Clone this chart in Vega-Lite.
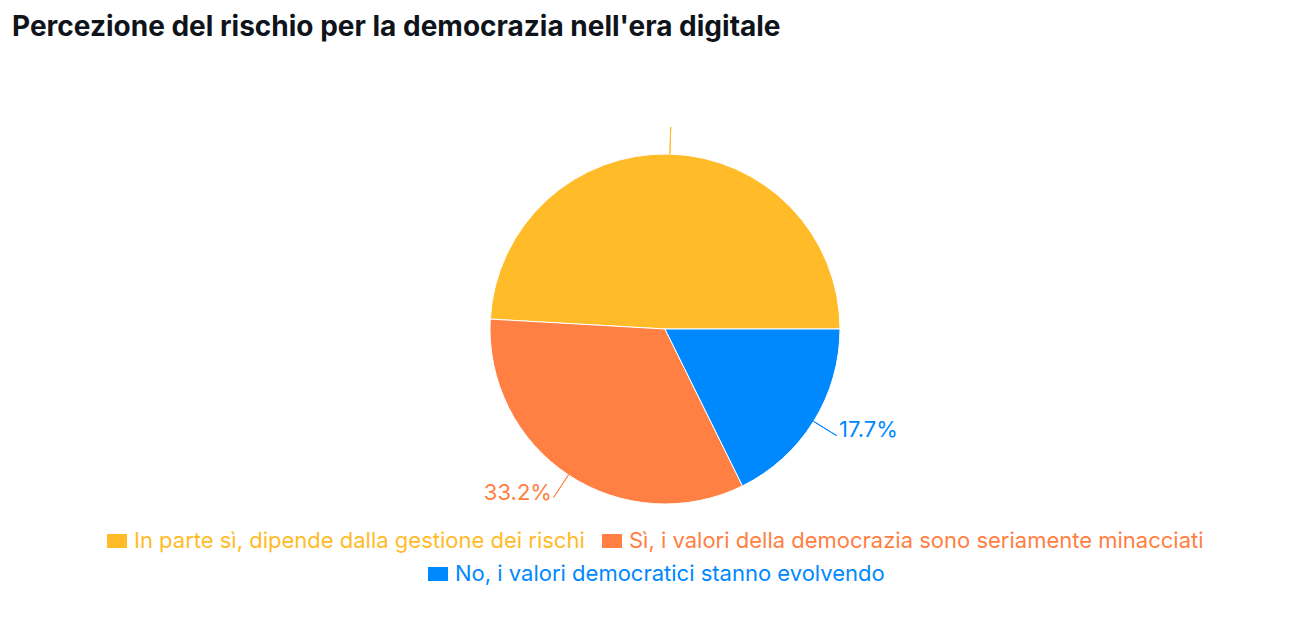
{
  "$schema": "https://vega.github.io/schema/vega-lite/v6.json",
  "autosize": "none",
  "width": 1288,
  "height": 538,
  "padding": {"left": 21, "top": 60, "right": 0, "bottom": 28},
  "background": "#ffffff",
  "title": {
    "text": "Percezione del rischio per la democrazia nell'era digitale",
    "anchor": "start",
    "font": "Inter",
    "fontSize": 28,
    "fontWeight": 700,
    "color": "#0f141a",
    "dx": -9,
    "offset": 18
  },
  "data": {
    "values": [
      {"cat": "In parte sì, dipende dalla gestione dei rischi", "value": 0.491},
      {"cat": "Sì, i valori della democrazia sono seriamente minacciati", "value": 0.332},
      {"cat": "No, i valori democratici stanno evolvendo", "value": 0.177}
    ]
  },
  "encoding": {
    "theta": {"field": "value", "type": "quantitative", "stack": true, "scale": {"range": [1.5707963, 7.8539816]}},
    "order": {"field": "value", "sort": "ascending"}
  },
  "layer": [
    {
      "mark": {"type": "arc", "outerRadius": 175, "stroke": "#ffffff", "strokeWidth": 1},
      "encoding": {
        "color": {
          "field": "cat",
          "type": "nominal",
          "scale": {
            "domain": ["In parte sì, dipende dalla gestione dei rischi", "Sì, i valori della democrazia sono seriamente minacciati", "No, i valori democratici stanno evolvendo"],
            "range": ["#FFBB28", "#FF8042", "#0088FE"]
          },
          "legend": {
            "orient": "none",
            "legendX": 85,
            "legendY": 470,
            "direction": "horizontal",
            "title": null,
            "values": ["In parte sì, dipende dalla gestione dei rischi", "Sì, i valori della democrazia sono seriamente minacciati"],
            "symbolType": "M-1,-0.7H1V0.7H-1Z",
            "symbolSize": 400,
            "symbolStrokeWidth": 0,
            "labelFont": "Inter",
            "labelFontSize": 22,
            "labelLimit": 1000,
            "labelOffset": 6,
            "columnPadding": 16,
            "padding": 0,
            "labelColor": {"expr": "datum.value === 'Sì, i valori della democrazia sono seriamente minacciati' ? '#FF8042' : '#FFBB28'"}
          }
        }
      }
    },
    {
      "mark": {"type": "arc", "innerRadius": 175, "outerRadius": 202, "padAngle": 3, "filled": false, "strokeWidth": 1},
      "encoding": {
        "stroke": {
          "field": "cat",
          "type": "nominal",
          "scale": {
            "domain": ["In parte sì, dipende dalla gestione dei rischi", "Sì, i valori della democrazia sono seriamente minacciati", "No, i valori democratici stanno evolvendo"],
            "range": ["#FFBB28", "#FF8042", "#0088FE"]
          },
          "legend": null
        }
      }
    },
    {
      "mark": {"type": "text", "radius": 205, "align": "left", "baseline": "alphabetic", "font": "Inter", "fontSize": 22},
      "encoding": {
        "text": {
          "condition": {"test": "datum.cat === 'No, i valori democratici stanno evolvendo'", "field": "value", "format": ".1%"},
          "value": ""
        },
        "fill": {
          "field": "cat",
          "type": "nominal",
          "scale": {
            "domain": ["No, i valori democratici stanno evolvendo", "In parte sì, dipende dalla gestione dei rischi", "Sì, i valori della democrazia sono seriamente minacciati"],
            "range": ["#0088FE", "#FFBB28", "#FF8042"]
          },
          "legend": {
            "orient": "none",
            "legendX": 406,
            "legendY": 503,
            "direction": "horizontal",
            "title": null,
            "values": ["No, i valori democratici stanno evolvendo"],
            "symbolType": "M-1,-0.7H1V0.7H-1Z",
            "symbolSize": 400,
            "symbolStrokeWidth": 0,
            "labelFont": "Inter",
            "labelFontSize": 22,
            "labelLimit": 1000,
            "labelOffset": 6,
            "padding": 0,
            "labelColor": "#0088FE"
          }
        }
      }
    },
    {
      "mark": {"type": "text", "radius": 205, "align": "right", "baseline": "alphabetic", "font": "Inter", "fontSize": 22, "fill": "#FF8042"},
      "encoding": {
        "text": {
          "condition": {"test": "datum.cat === 'Sì, i valori della democrazia sono seriamente minacciati'", "field": "value", "format": ".1%"},
          "value": ""
        }
      }
    }
  ],
  "config": {
    "view": {"stroke": null}
  }
}
